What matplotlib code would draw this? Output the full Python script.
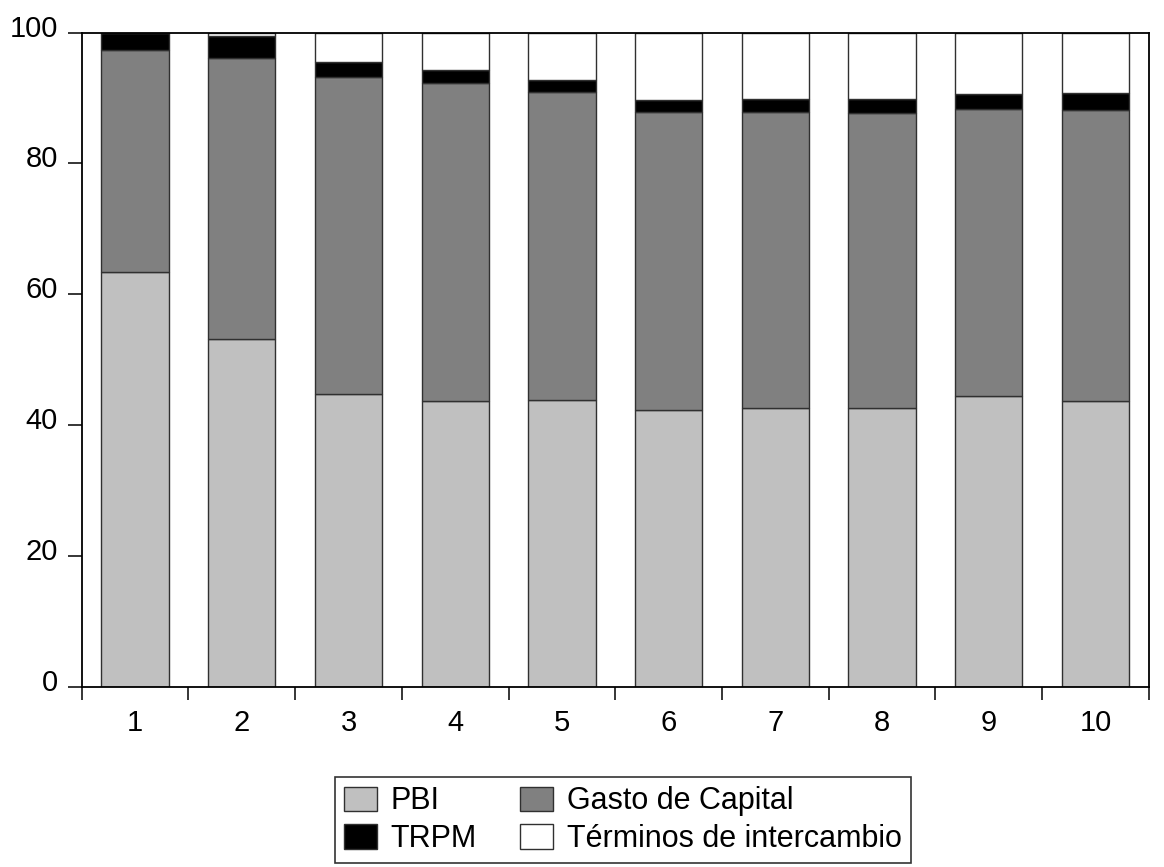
import numpy as np
import matplotlib.pyplot as plt
from matplotlib.ticker import FixedLocator
from matplotlib.transforms import ScaledTranslation

plt.rcParams['font.family'] = ['Liberation Sans', 'DejaVu Sans']

periodos = [1, 2, 3, 4, 5, 6, 7, 8, 9, 10]
pbi = [63.4, 53.2, 44.8, 43.65, 43.85, 42.3, 42.6, 42.7, 44.4, 43.7]
gasto = [33.9, 42.85, 48.45, 48.65, 47.1, 45.6, 45.3, 45.05, 43.85, 44.45]
trpm = [2.6, 3.45, 2.25, 1.9, 1.75, 1.8, 1.9, 2.15, 2.35, 2.55]
terminos = [0.1, 0.5, 4.5, 5.8, 7.3, 10.3, 10.2, 10.1, 9.4, 9.3]

series = [
    ("PBI", pbi, "#c0c0c0"),
    ("Gasto de Capital", gasto, "#808080"),
    ("TRPM", trpm, "#000000"),
    ("Términos de intercambio", terminos, "#ffffff"),
]

fig = plt.figure(figsize=(11.64, 8.67), dpi=100)
ax = fig.add_axes([0.0702, 0.2076, 0.9168, 0.7549])

x = np.array(periodos)
base = np.zeros(len(x))
barras = {}
for nombre, vals, col in series:
    barras[nombre] = ax.bar(x, vals, bottom=base, width=0.63, color=col,
                            edgecolor="#303030", linewidth=1.0, label=nombre)
    base = base + np.array(vals)

ax.set_xlim(0.5, 10.5)
ax.set_ylim(0, 100)
ax.set_yticks([0, 20, 40, 60, 80, 100])
ax.tick_params(axis='y', direction='out', length=10, width=1.1, labelsize=21, pad=7)
# labels sit a bit above their ticks in the original
up = ScaledTranslation(0, 7 / 100, fig.dpi_scale_trans)
for lab in ax.get_yticklabels():
    lab.set_transform(lab.get_transform() + up)

# ticks between bars, labels at bar centres
ax.xaxis.set_major_locator(FixedLocator(np.arange(0.5, 11, 1)))
ax.xaxis.set_minor_locator(FixedLocator(x))
ax.set_xticklabels([])
ax.set_xticklabels([str(p) for p in periodos], minor=True)
ax.tick_params(axis='x', which='major', direction='out', length=9.5, width=1.1)
ax.tick_params(axis='x', which='minor', length=0, labelsize=21, pad=16)

for s in ax.spines.values():
    s.set_linewidth(1.3)

handles = [barras["PBI"], barras["TRPM"], barras["Gasto de Capital"],
           barras["Términos de intercambio"]]
labels = ["PBI", "TRPM", "Gasto de Capital", "Términos de intercambio"]
leg = fig.legend(handles, labels, loc='center', bbox_to_anchor=(0.535, 0.054),
                 ncol=2, fontsize=22, frameon=True, fancybox=False,
                 edgecolor='black', handlelength=1.08, handleheight=0.85,
                 handletextpad=0.45, columnspacing=1.4, labelspacing=0.25,
                 borderpad=0.3, borderaxespad=0)
leg.get_frame().set_linewidth(1.2)

fig.savefig("out.png", dpi=100)
